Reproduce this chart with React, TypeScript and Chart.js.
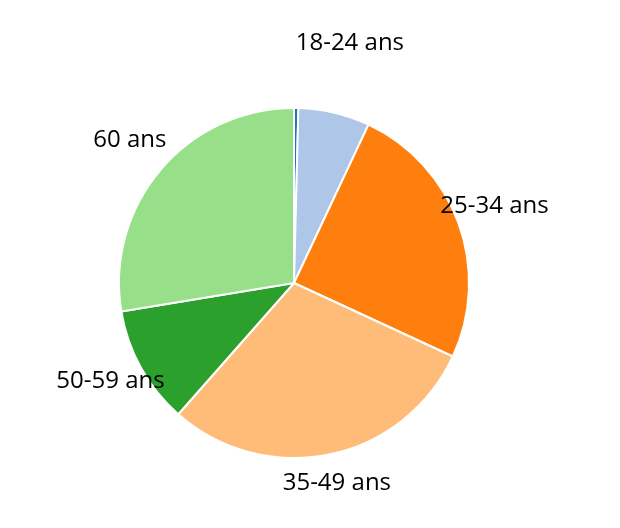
import React, { useEffect, useRef } from "react";
import { Chart, registerables } from "chart.js";

Chart.register(...registerables);

const categories = ["", "18-24 ans", "25-34 ans", "35-49 ans", "50-59 ans", "60 ans"];
const shares = [0.4, 6.6, 24.9, 29.6, 10.9, 27.6];
const colors = ["#1f77b4", "#aec7e8", "#ff7f0e", "#ffbb78", "#2ca02c", "#98df8a"];
const labelRadius = [1.2, 1.386, 1.219, 1.19, 1.199, 1.23];

const outsideLabels = {
  id: "outsideLabels",
  afterDatasetsDraw(chart: any) {
    const ctx = chart.ctx;
    const meta = chart.getDatasetMeta(0);
    ctx.save();
    ctx.font = '24px "Open Sans"';
    ctx.fillStyle = "#000";
    ctx.textAlign = "center";
    ctx.textBaseline = "middle";
    meta.data.forEach((arc: any, i: number) => {
      const text = categories[i];
      if (!text) return;
      const mid = (arc.startAngle + arc.endAngle) / 2;
      const r = arc.outerRadius * labelRadius[i];
      ctx.fillText(text, arc.x + Math.cos(mid) * r, arc.y + Math.sin(mid) * r - 4);
    });
    ctx.restore();
  },
};

export default function App() {
  const ref = useRef<HTMLCanvasElement>(null);
  useEffect(() => {
    const chart = new Chart(ref.current!, {
      type: "pie",
      data: {
        labels: categories,
        datasets: [
          {
            data: shares,
            backgroundColor: colors,
            borderColor: "#ffffff",
            borderWidth: 2,
          },
        ],
      },
      options: {
        animation: false,
        responsive: false,
        layout: { padding: { left: 118, right: 150, top: 107, bottom: 69 } },
        plugins: { legend: { display: false }, tooltip: { enabled: false } },
      },
      plugins: [outsideLabels],
    });
    return () => chart.destroy();
  }, []);
  return (
    <div style={{ position: "fixed", left: 0, top: 0, width: 620, height: 528, background: "#fff" }}>
      <canvas ref={ref} width={620} height={528} />
    </div>
  );
}
